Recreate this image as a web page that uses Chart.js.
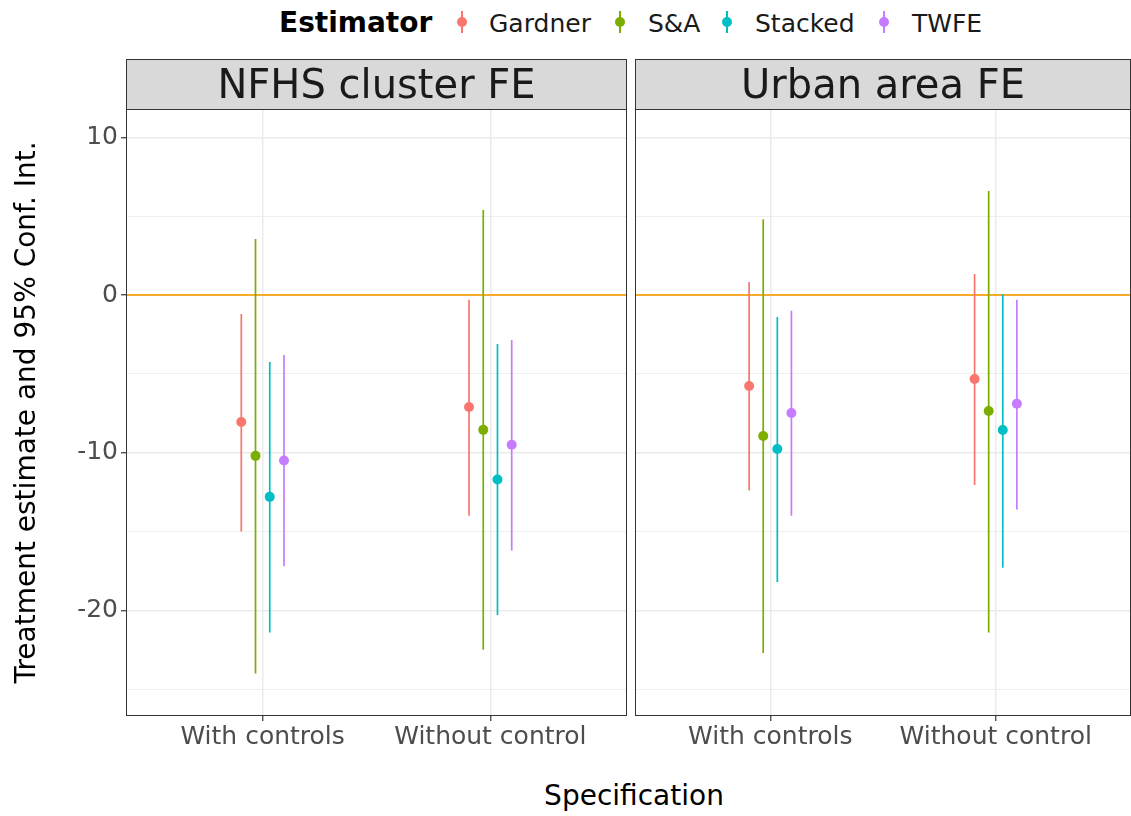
<!DOCTYPE html>
<html>
<head>
<meta charset="utf-8">
<script src="https://cdn.jsdelivr.net/npm/chart.js@4/dist/chart.umd.min.js"></script>
<style>
html, body { overflow:hidden; }
body { margin:0; width:1131px; height:816px; background:#fff; position:relative; font-family:"DejaVu Sans", sans-serif; }
canvas { position:absolute; }
#leftPanel { left:0; top:55px; }
#rightPanel { left:630px; top:55px; }
.lg { position:absolute; white-space:nowrap; line-height:1; }
.lgTitle { font-weight:bold; font-size:28px; color:#000; }
.lgText { font-size:25px; color:#1a1a1a; }
.key { position:absolute; width:12px; height:22px; }
.key .bar { position:absolute; left:5px; top:0; width:1.6px; height:22px; }
.key .dot { position:absolute; left:1px; top:6px; width:10px; height:10px; border-radius:50%; }
#xtitle { position:absolute; left:132px; width:1004px; top:782px; text-align:center; font-size:28px; color:#000; line-height:1; }
</style>
</head>
<body>
<div id="legend"></div>
<canvas id="leftPanel" width="632" height="705" style="width:632px;height:705px"></canvas>
<canvas id="rightPanel" width="506" height="705" style="width:506px;height:705px"></canvas>
<div id="xtitle">Specification</div>
<script>
var specs = ["With controls", "Without control"];
var estimators = ["Gardner", "S&A", "Stacked", "TWFE"];
var colors = ["#F8766D", "#7CAE00", "#00BFC4", "#C77CFF"];
var yTickValues = [10, 5, 0, -5, -10, -15, -20, -25];
var panelTitles = ["NFHS cluster FE", "Urban area FE"];

// NFHS cluster FE, one row per estimator: [With controls, Without control]
var nfhsEstimate = [[-8.05, -7.1], [-10.2, -8.55], [-12.8, -11.7], [-10.5, -9.5]];
var nfhsLower    = [[-15.0, -14.0], [-24.0, -22.5], [-21.4, -20.3], [-17.2, -16.2]];
var nfhsUpper    = [[-1.2, -0.3], [3.55, 5.4], [-4.25, -3.1], [-3.8, -2.85]];

// Urban area FE
var urbanEstimate = [[-5.77, -5.33], [-8.94, -7.36], [-9.77, -8.56], [-7.48, -6.9]];
var urbanLower    = [[-12.4, -12.05], [-22.7, -21.4], [-18.2, -17.3], [-14.0, -13.6]];
var urbanUpper    = [[0.82, 1.33], [4.8, 6.6], [-1.4, 0.05], [-1.0, -0.3]];

var dodge = [-0.09375, -0.03125, 0.03125, 0.09375];

// legend (html)
var legendX = { title: 279, keys: [462, 620, 727, 884], texts: [489, 648, 755, 912] };
var legend = document.getElementById("legend");
var t = document.createElement("div");
t.className = "lg lgTitle"; t.textContent = "Estimator";
t.style.left = legendX.title + "px"; t.style.top = "9px";
legend.appendChild(t);
estimators.forEach(function(name, i){
  var k = document.createElement("div");
  k.className = "key";
  k.style.left = (legendX.keys[i] - 6) + "px"; k.style.top = "11px";
  k.innerHTML = '<div class="bar" style="background:' + colors[i] + '"></div><div class="dot" style="background:' + colors[i] + '"></div>';
  legend.appendChild(k);
  var s = document.createElement("div");
  s.className = "lg lgText"; s.textContent = name;
  s.style.left = legendX.texts[i] + "px"; s.style.top = "11px";
  legend.appendChild(s);
});

var panelDeco = {
  id: "panelDeco",
  afterDraw: function(chart, args, opts){
    var a = chart.chartArea, ctx = chart.ctx;
    ctx.save();
    // strip
    ctx.fillStyle = "#D9D9D9";
    ctx.fillRect(a.left, a.top - 50, a.right - a.left, 50);
    ctx.strokeStyle = "#333333";
    ctx.lineWidth = 1;
    ctx.strokeRect(a.left + 0.5, a.top - 49.5, a.right - a.left - 1, 50);
    ctx.fillStyle = "#1A1A1A";
    ctx.font = "40px 'DejaVu Sans'";
    ctx.textAlign = "center";
    ctx.textBaseline = "middle";
    ctx.fillText(opts.title, (a.left + a.right) / 2, a.top - 21);
    // panel border
    ctx.strokeStyle = "#333333";
    ctx.strokeRect(a.left + 0.5, a.top + 0.5, a.right - a.left - 1, a.bottom - a.top - 1);
    ctx.restore();
  }
};

function buildDatasets(est, lo, hi){
  var ds = [];
  ds.push({
    data: [{x: 0.4, y: 0}, {x: 2.6, y: 0}],
    showLine: true, borderColor: "#F8AA2A", borderWidth: 2, pointRadius: 0, order: 3
  });
  estimators.forEach(function(name, i){
    var seg = [];
    specs.forEach(function(sp, j){
      var xv = j + 1 + dodge[i];
      seg.push({x: xv, y: lo[i][j]}, {x: xv, y: hi[i][j]}, {x: xv, y: null});
    });
    ds.push({
      label: name, data: seg, showLine: true, spanGaps: false,
      borderColor: colors[i], borderWidth: 1.7, borderCapStyle: "butt", pointRadius: 0, order: 2
    });
  });
  estimators.forEach(function(name, i){
    ds.push({
      label: name,
      data: specs.map(function(sp, j){ return {x: j + 1 + dodge[i], y: est[i][j]}; }),
      backgroundColor: colors[i], borderColor: colors[i], borderWidth: 0,
      pointRadius: 5, order: 1
    });
  });
  return ds;
}

function makePanel(id, title, est, lo, hi, isLeft){
  return new Chart(document.getElementById(id), {
    type: "scatter",
    data: { datasets: buildDatasets(est, lo, hi) },
    options: {
      responsive: false, animation: false,
      layout: { padding: { top: 54, bottom: 0, left: isLeft ? 0 : 1, right: isLeft ? 2 : 1 } },
      plugins: { legend: { display: false }, tooltip: { enabled: false }, panelDeco: { title: title } },
      scales: {
        x: {
          type: "linear", min: 0.4, max: 2.6,
          afterBuildTicks: function(s){ s.ticks = specs.map(function(sp, j){ return {value: j + 1}; }); },
          afterFit: function(s){ s.height = 44; },
          ticks: {
            callback: function(v){ return specs[v - 1]; },
            font: { family: "DejaVu Sans", size: 25 }, color: "#4D4D4D", padding: 1, maxRotation: 0, autoSkip: false
          },
          grid: { color: "#EBEBEB", lineWidth: 1.5, tickLength: 5, tickColor: "#333333", tickWidth: 1.2 },
          border: { display: false }
        },
        y: {
          min: -26.7, max: 11.8,
          afterBuildTicks: function(s){ s.ticks = yTickValues.map(function(v){ return {value: v}; }); },
          afterFit: function(s){ s.width = isLeft ? 126 : 0; },
          ticks: {
            display: isLeft,
            callback: function(v){ return v % 10 === 0 ? v : ""; },
            font: { family: "DejaVu Sans", size: 25 }, color: "#4D4D4D", padding: 3
          },
          grid: {
            color: "#EBEBEB",
            lineWidth: function(c){ return c.tick && c.tick.value % 10 === 0 ? 1.5 : 0.8; },
            drawTicks: isLeft, tickLength: 5, tickWidth: 1.2,
            tickColor: function(c){ return c.tick && c.tick.value % 10 === 0 ? "#333333" : "rgba(0,0,0,0)"; }
          },
          border: { display: false },
          title: {
            display: isLeft, text: "Treatment estimate and 95% Conf. Int.",
            font: { family: "DejaVu Sans", size: 28 }, color: "#000", padding: { top: 11, bottom: 0 }
          }
        }
      }
    },
    plugins: [panelDeco]
  });
}

makePanel("leftPanel", panelTitles[0], nfhsEstimate, nfhsLower, nfhsUpper, true);
makePanel("rightPanel", panelTitles[1], urbanEstimate, urbanLower, urbanUpper, false);
</script>
</body>
</html>
